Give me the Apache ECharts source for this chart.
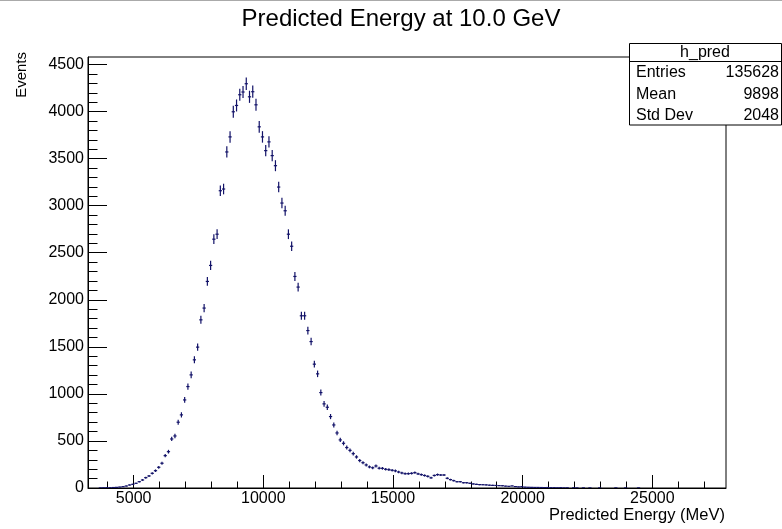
<!DOCTYPE html>
<html><head><meta charset="utf-8">
<script src="https://cdn.jsdelivr.net/npm/echarts@6/dist/echarts.min.js"></script>
<style>html,body{margin:0;padding:0;background:#fff}#c{width:782px;height:529px}</style>
</head><body><div id="c"></div>
<script>
const titleText = 'Predicted Energy at 10.0 GeV';
const xTitle = 'Predicted Energy (MeV)';
const yTitle = 'Events';
const binStart = 3280;
const binWidth = 125;
const counts = [
  0, 0, 0, 1, 2, 3, 3, 5, 7, 10,
  14, 21, 32, 39, 50, 67, 85, 110, 128, 156,
  184, 220, 263, 344, 386, 521, 553, 699, 777, 936,
  1078, 1202, 1362, 1497, 1787, 1912, 2195, 2365, 2644, 2697,
  3159, 3177, 3571, 3731, 3998, 4065, 4179, 4208, 4296, 4157,
  4211, 4072, 3838, 3731, 3585, 3678, 3532, 3425, 3198, 3028,
  2946, 2697, 2569, 2248, 2135, 1830, 1830, 1673, 1556, 1316,
  1213, 1014, 894, 858, 759, 670, 585, 511, 475, 430,
  400, 365, 330, 292, 269, 245, 224, 215, 234, 210,
  209, 199, 195, 188, 182, 170, 160, 152, 152, 156,
  163, 150, 142, 133, 124, 108, 133, 142, 138, 138,
  103, 89, 78, 67, 67, 56, 56, 50, 43, 39,
  36, 35, 33, 30, 28, 27, 25, 24, 20, 18,
  22, 15, 12, 14, 9, 8, 7, 6, 6, 5,
  4, 5, 3, 3, 2, 3, 1, 2, 0, 2,
  1, 0, 1, 0, 1, 0, 0, 1, 0, 0,
  0, 0, 1, 0, 0, 1, 0, 0, 0, 1
];
const xMajorTicks = [5000, 10000, 15000, 20000, 25000];
const yMajorTicks = [0, 500, 1000, 1500, 2000, 2500, 3000, 3500, 4000, 4500];
const statsName = 'h_pred';
const statsLabels = ['Entries', 'Mean', 'Std Dev'];
const statsValues = ['135628', '9898', '2048'];

const X_MIN = 3240, X_MAX = 27840, Y_MIN = 0, Y_MAX = 4580;
const COLOR = '#121268';
const FONT = 'Liberation Sans, Arial, Helvetica, sans-serif';

const xMinorTicks = [];
for (let v = 4000; v <= 27000; v += 1000) if (v % 5000) xMinorTicks.push(v);
const yMinorTicks = [];
for (let v = 100; v <= 4500; v += 100) if (v % 500) yMinorTicks.push(v);

const data = counts.map((c, k) => [binStart + (k + 0.5) * binWidth, c]).filter(d => d[1] > 0);

const chart = echarts.init(document.getElementById('c'), null, {renderer: 'canvas'});

function baseAxis(min, max, pos) {
  return {type: 'value', min, max, position: pos, splitLine: {show: false}};
}
const plain = v => String(v);

const statsGraphic = [
  {type: 'rect', shape: {x: 629.5, y: 43.5, width: 152, height: 81.5}, style: {fill: '#fff', stroke: '#000', lineWidth: 1}, z: 100},
  {type: 'line', shape: {x1: 629.5, y1: 61.5, x2: 781.5, y2: 61.5}, style: {stroke: '#000', lineWidth: 1}, z: 101},
  {type: 'text', x: 705, y: 52.5, style: {text: statsName, fontSize: 16, fontFamily: FONT, fill: '#000', align: 'center', verticalAlign: 'middle'}, z: 101}
];
const rowY = [73, 95, 116];
statsLabels.forEach((l, i) => {
  statsGraphic.push({type: 'text', x: 636, y: rowY[i], style: {text: l, fontSize: 16, fontFamily: FONT, fill: '#000', align: 'left', verticalAlign: 'middle'}, z: 101});
  statsGraphic.push({type: 'text', x: 779, y: rowY[i], style: {text: statsValues[i], fontSize: 16, fontFamily: FONT, fill: '#000', align: 'right', verticalAlign: 'middle'}, z: 101});
});

chart.setOption({
  animation: false,
  backgroundColor: '#fff',
  grid: {left: 88, right: 56, top: 57, bottom: 41, show: true, borderColor: '#000', borderWidth: 1, backgroundColor: 'transparent'},
  xAxis: [
    Object.assign(baseAxis(X_MIN, X_MAX, 'bottom'), {
      axisLine: {show: true, lineStyle: {color: '#000', width: 1}},
      axisTick: {show: true, inside: true, length: 13, customValues: xMajorTicks, lineStyle: {color: '#000'}},
      axisLabel: {show: true, customValues: xMajorTicks, formatter: plain, fontSize: 16, fontFamily: FONT, color: '#000', margin: 3}
    }),
    Object.assign(baseAxis(X_MIN, X_MAX, 'bottom'), {
      axisLine: {show: false},
      axisTick: {show: true, inside: true, length: 6.5, customValues: xMinorTicks, lineStyle: {color: '#000'}},
      axisLabel: {show: false}
    })
  ],
  yAxis: [
    Object.assign(baseAxis(Y_MIN, Y_MAX, 'left'), {
      axisLine: {show: true, lineStyle: {color: '#000', width: 1}},
      axisTick: {show: true, inside: true, length: 19, customValues: yMajorTicks, lineStyle: {color: '#000'}},
      axisLabel: {show: true, customValues: yMajorTicks, formatter: plain, fontSize: 16, fontFamily: FONT, color: '#000', margin: 4}
    }),
    Object.assign(baseAxis(Y_MIN, Y_MAX, 'left'), {
      axisLine: {show: false},
      axisTick: {show: true, inside: true, length: 9.5, customValues: yMinorTicks, lineStyle: {color: '#000'}},
      axisLabel: {show: false}
    })
  ],
  graphic: [
    {type: 'line', shape: {x1: 0, y1: 0.5, x2: 782, y2: 0.5}, style: {stroke: '#aaa', lineWidth: 1}},
    {type: 'text', x: 401, y: 19, style: {text: titleText, fontSize: 24, fontFamily: FONT, fill: '#000', align: 'center', verticalAlign: 'middle'}},
    {type: 'text', x: 725, y: 515, style: {text: xTitle, fontSize: 16.5, fontFamily: FONT, fill: '#000', align: 'right', verticalAlign: 'middle'}},
    {type: 'text', x: 22, y: 52, rotation: Math.PI / 2, style: {text: yTitle, fontSize: 15, fontFamily: FONT, fill: '#000', align: 'right', verticalAlign: 'middle'}}
  ].concat(statsGraphic),
  series: [{
    type: 'custom',
    xAxisIndex: 0,
    yAxisIndex: 0,
    clip: true,
    data: data,
    renderItem: function (params, api) {
      const x = api.value(0), y = api.value(1), e = Math.sqrt(y), hw = binWidth / 2;
      const pL = api.coord([x - hw, y]), pR = api.coord([x + hw, y]);
      const pT = api.coord([x, y + e]), pB = api.coord([x, Math.max(0, y - e)]);
      const st = {stroke: COLOR, lineWidth: 1.2};
      return {type: 'group', children: [
        {type: 'line', shape: {x1: pL[0], y1: pL[1], x2: pR[0], y2: pR[1]}, style: st},
        {type: 'line', shape: {x1: pT[0], y1: pT[1], x2: pB[0], y2: pB[1]}, style: st}
      ]};
    }
  }]
});
</script>
</body></html>
